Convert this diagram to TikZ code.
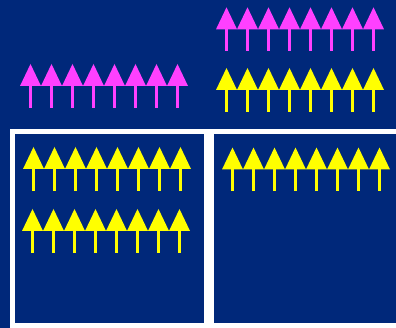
\documentclass[tikz,border=0pt]{standalone}
\usepackage{tikz}

\definecolor{slide}{HTML}{00287A}
\definecolor{spinpink}{HTML}{FF40FF}
\definecolor{spinyellow}{HTML}{FFFF00}

\tikzset{frame/.style={draw=white,line width=5},
         stem/.style={line width=2.7}}

% one row of eight up-arrows: colour, left x, apex y
\newcommand{\spinrow}[3]{%
  \foreach \k in {0,...,7}{
    \fill[#1] ({#2+21*\k},{#3+22}) -- ({#2+21*\k+10.5},#3) -- ({#2+21*\k+21},{#3+22}) -- cycle;
    \draw[#1,stem] ({#2+21*\k+10.5},{#3+21}) -- ({#2+21*\k+10.5},{#3+44});
  }}

\begin{document}
\begin{tikzpicture}[x=1pt,y=-1pt]
\useasboundingbox (0,0) rectangle (396,328);
\clip (0,0) rectangle (396,328);
\fill[slide] (0,0) rectangle (396,328);

\coordinate (LA) at (12.6,131.8);
\coordinate (LB) at (206.6,325.4);
\coordinate (RA) at (211.6,131.8);
\coordinate (RB) at (402,325.4);
\draw[frame] (LA) rectangle (LB);
\draw[frame] (RA) rectangle (RB);

\spinrow{spinpink}{216}{7.3}
\spinrow{spinyellow}{216}{68}
\spinrow{spinpink}{20}{64}

\spinrow{spinyellow}{23}{147}
\spinrow{spinyellow}{22}{209}
\spinrow{spinyellow}{222}{147.5}

\end{tikzpicture}
\end{document}
